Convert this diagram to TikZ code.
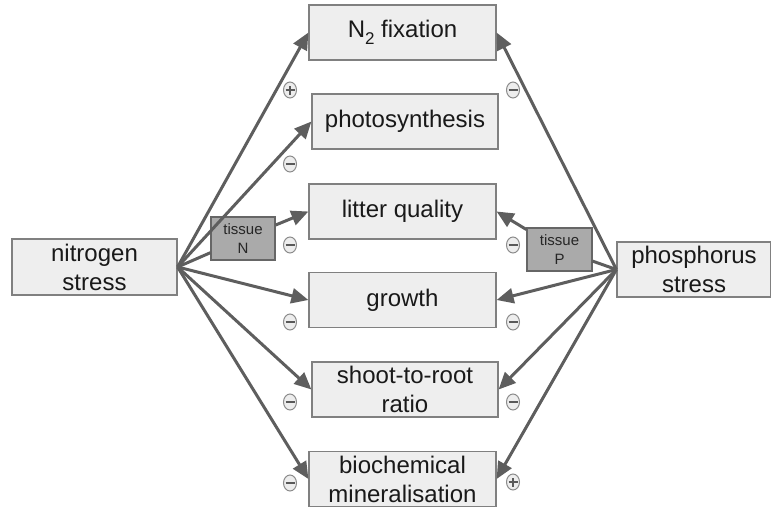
\documentclass[tikz,border=0pt]{standalone}
\usepackage{fontspec}
\setmainfont{Liberation Sans}
\usetikzlibrary{arrows.meta}
\usetikzlibrary{shapes.geometric}
\definecolor{linegray}{HTML}{5E5E5E}
\definecolor{boxgray}{HTML}{EEEEEE}
\definecolor{tissuegray}{HTML}{AAAAAA}
\tikzset{box/.style = {draw = black!50, line width = 1.2pt, fill = boxgray,
                       align = center, inner sep = 0pt, text = black!90,
                       font = \fontsize{24}{29}\selectfont},
         tissue/.style = {draw = black!60, line width = 1.2pt, fill = tissuegray,
                          align = center, inner sep = 0pt, text = black!85,
                          minimum width = 64pt, minimum height = 43pt,
                          font = \fontsize{15}{19}\selectfont},
         link/.style = {draw = linegray, line width = 3pt},
         arr/.style = {link, -{Triangle[length = 17pt, width = 15pt]}},
         signmark/.style = {ellipse, draw = black!45, line width = 1pt, fill = black!7,
                            minimum width = 13pt, minimum height = 16pt, inner sep = 0pt},
         minus/.style = {signmark, path picture = {
             \draw [line width = 2.4pt, black!65]
               ([xshift = -4.5pt]path picture bounding box.center) --
               ([xshift = 4.5pt]path picture bounding box.center);}},
         plus/.style = {signmark, path picture = {
             \draw [line width = 2.4pt, black!65]
               ([xshift = -4.5pt]path picture bounding box.center) --
               ([xshift = 4.5pt]path picture bounding box.center)
               ([yshift = -4.5pt]path picture bounding box.center) --
               ([yshift = 4.5pt]path picture bounding box.center);}}}

\begin{document}
\begin{tikzpicture}[x = 1pt, y = -1pt]
      \useasboundingbox (0, 0) rectangle (771, 509);
      % responses
      \node [box, minimum width = 187pt, minimum height = 55pt] (fix) at (402.5, 32.5)
            {N\raisebox{-7pt}{\fontsize{17}{17}\selectfont 2} fixation};
      \node [box, minimum width = 186pt, minimum height = 55pt] (photo) at (405, 121.5) {photosynthesis};
      \node [box, minimum width = 187pt, minimum height = 55pt] (litter) at (402.5, 211.5) {litter quality};
      \node [box, minimum width = 187pt, minimum height = 55pt] (growth) at (402.5, 300) {growth};
      \node [box, minimum width = 186pt, minimum height = 55pt] (ratio) at (405, 389.5) {shoot-to-root\\ratio};
      \node [box, minimum width = 187pt, minimum height = 55pt] (mineral) at (402.5, 479) {biochemical\\mineralisation};
      % stresses
      \node [box, minimum width = 165pt, minimum height = 56pt] (nstress) at (94.5, 267) {nitrogen\\stress};
      \node [box, minimum width = 154pt, minimum height = 55pt] (pstress) at (694, 269.5) {phosphorus\\stress};
      \node [tissue] (tissueN) at (243, 238.5) {tissue\\N};
      \node [tissue, minimum width = 65pt] (tissueP) at (559.5, 249.5) {tissue\\P};

      \draw [arr] (nstress.east) -- (fix.west);
      \draw [arr] (nstress.east) -- (photo.west);
      \draw [link] (nstress.east) -- (tissueN);
      \draw [arr] (tissueN) -- (litter.west);
      \draw [arr] (nstress.east) -- (growth.west);
      \draw [arr] (nstress.east) -- (ratio.west);
      \draw [arr] (nstress.east) -- (mineral.west);

      \draw [arr] (pstress.west) -- (fix.east);
      \draw [link] (pstress.west) -- (tissueP);
      \draw [arr] (tissueP) -- (litter.east);
      \draw [arr] (pstress.west) -- (growth.east);
      \draw [arr] (pstress.west) -- (ratio.east);
      \draw [arr] (pstress.west) -- (mineral.east);

      % signs
      \node [plus] (sfixN) at (290, 90) {};
      \node [minus] (sphotoN) at (290, 164) {};
      \node [minus] (slitterN) at (290, 245) {};
      \node [minus] (sgrowthN) at (290, 322) {};
      \node [minus] (sratioN) at (290, 402) {};
      \node [minus] (smineralN) at (290, 483) {};
      \node [minus] (sfixP) at (513, 90) {};
      \node [minus] (slitterP) at (513, 245) {};
      \node [minus] (sgrowthP) at (513, 322) {};
      \node [minus] (sratioP) at (513, 402) {};
      \node [plus] (smineralP) at (513, 482) {};
    \end{tikzpicture}
\end{document}
